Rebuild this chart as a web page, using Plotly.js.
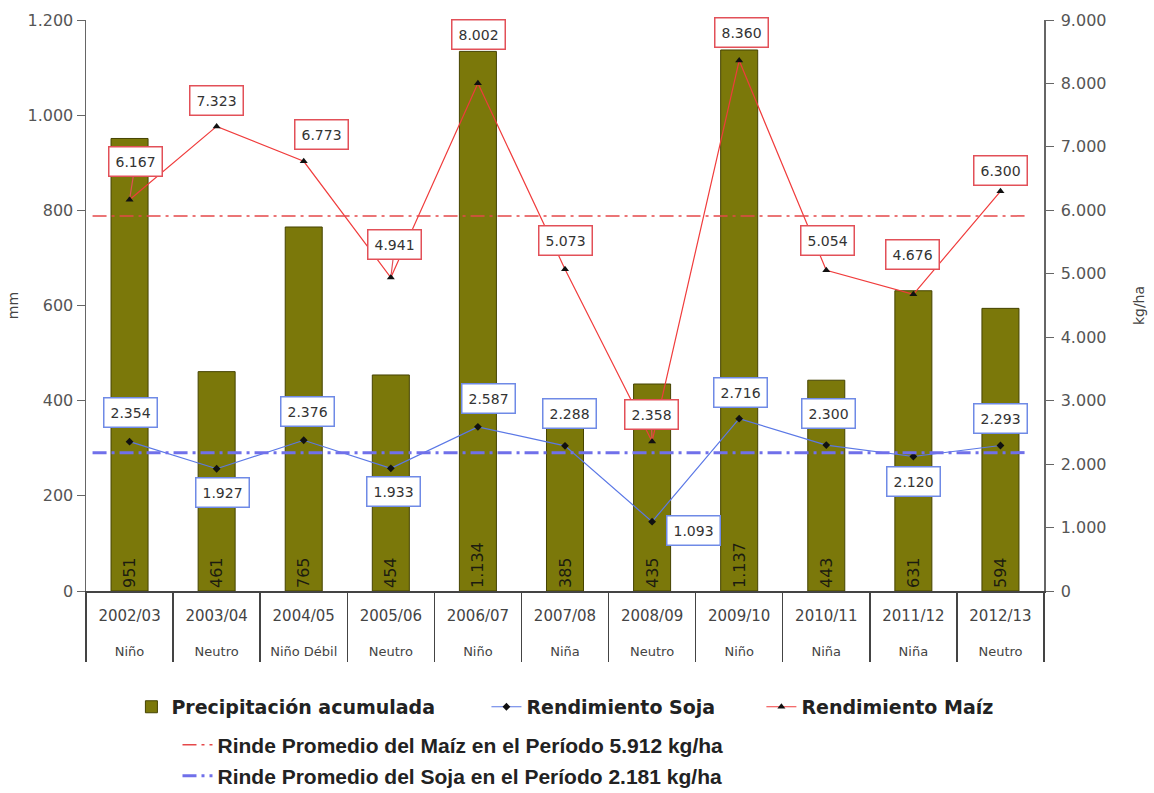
<!DOCTYPE html>
<html>
<head>
<meta charset="utf-8">
<script src="https://cdn.plot.ly/plotly-3.0.1.min.js"></script>
<style>html,body{margin:0;padding:0;background:#fff;}#chart{width:1154px;height:793px;}</style>
</head>
<body>
<div id="chart"></div>
<script>
// ---- data ----
const years = ['2002/03','2003/04','2004/05','2005/06','2006/07','2007/08','2008/09','2009/10','2010/11','2011/12','2012/13'];
const enso = ['Niño','Neutro','Niño Débil','Neutro','Niño','Niña','Neutro','Niño','Niña','Niña','Neutro'];
const precip = [951, 461, 765, 454, 1134, 385, 435, 1137, 443, 631, 594];
const maiz = [6167, 7323, 6773, 4941, 8002, 5073, 2358, 8360, 5054, 4676, 6300];
const soja = [2354, 1927, 2376, 1933, 2587, 2288, 1093, 2716, 2300, 2120, 2293];
const avgMaiz = 5912;
const avgSoja = 2181;

// ---- label placement (pixel offsets, layout only) ----
const maizOff = [[6,38,true],[0,26],[18,27],[4,33,true],[1,49],[0,29],[-1,27,true],[2,28],[1,30],[-1,40],[0,21]];
const sojaOff = [[1,29],[6,-24],[4,29],[3,-23],[11,28],[4,32],[41,-9],[1,26],[2,32],[0,-25],[0,27]];

function fmt(v){ return v.toString().replace(/\B(?=(\d{3})+(?!\d))/g, '.'); }

// two-level category labels: campaign on top, ENSO phase below
const xcat = years.map((y,i)=> '<span style="font-size:15px">' + y + '</span><br><br><span style="font-size:13px">' + enso[i] + '</span>');

const traces = [
  {
    type:'bar', name:'Precipitación acumulada', x:xcat, y:precip,
    marker:{color:'#7b780a', line:{color:'#454300', width:1}},
    text: precip.map(fmt), textposition:'inside', insidetextanchor:'start', textangle:-90,
    constraintext:'none', textfont:{family:'DejaVu Sans', size:16, color:'#1c1c10'},
    legend:'legend'
  },
  {
    type:'scatter', mode:'lines+markers', name:'Rendimiento Soja', x:xcat, y:soja, yaxis:'y2',
    line:{color:'#5b78e6', width:1.2}, marker:{symbol:'diamond', size:6, color:'#111'},
    legend:'legend4'
  },
  {
    type:'scatter', mode:'lines+markers', name:'Rendimiento Maíz', x:xcat, y:maiz, yaxis:'y2',
    line:{color:'#f03c3c', width:1.2}, marker:{symbol:'triangle-up', size:7, color:'#111'},
    legend:'legend5'
  },
  {
    type:'scatter', mode:'lines', name:'Rinde Promedio del Maíz en el Período 5.912 kg/ha',
    x:[0,1], y:[avgMaiz, avgMaiz], xaxis:'x3', yaxis:'y2',
    line:{color:'#e5484a', width:1.5, dash:'14px,5px,3px,5px'}, legend:'legend2'
  },
  {
    type:'scatter', mode:'lines', name:'Rinde Promedio del Soja en el Período 2.181 kg/ha',
    x:[0,1], y:[avgSoja, avgSoja], xaxis:'x3', yaxis:'y2',
    line:{color:'#7070ea', width:3, dash:'14px,5px,3px,5px'}, legend:'legend3'
  }
];

const annotations = [];
maiz.forEach((v,i)=>{
  const o = maizOff[i];
  const a = {xref:'x', yref:'y2', x:i, y:v, text:fmt(v),
    font:{family:'DejaVu Sans', size:14, color:'#333'},
    bgcolor:'#fff', bordercolor:'#e25058', borderwidth:1.5, borderpad:6};
  if(o[2]){ a.showarrow=true; a.arrowhead=0; a.arrowwidth=1.2; a.arrowcolor='#e25058'; a.ax=o[0]; a.ay=-o[1]; a.standoff=3; }
  else { a.showarrow=false; a.xshift=o[0]; a.yshift=o[1]; }
  annotations.push(a);
});
soja.forEach((v,i)=>{
  const o = sojaOff[i];
  annotations.push({xref:'x', yref:'y2', x:i, y:v, text:fmt(v), showarrow:false,
    xshift:o[0], yshift:o[1],
    font:{family:'DejaVu Sans', size:14, color:'#333'},
    bgcolor:'#fff', bordercolor:'#6f8ae6', borderwidth:1.5, borderpad:6});
});

const tickFont = {family:'DejaVu Sans', size:16, color:'#555'};
const legBase = {orientation:'h', xanchor:'left', yanchor:'middle', bgcolor:'rgba(0,0,0,0)'};
const row1Font = {family:'DejaVu Sans', size:19, color:'#222', weight:'bold'};
const row2Font = {family:'Liberation Sans', size:21, color:'#222', weight:'bold'};
const layout = {
  width:1154, height:793,
  margin:{l:86, r:110, t:20, b:202, autoexpand:false},
  paper_bgcolor:'#fff', plot_bgcolor:'#fff',
  separators:',.',
  showlegend:true,
  bargap:0.575,
  xaxis:{
    type:'category', range:[-0.5,10.5], showline:true, linecolor:'#444', linewidth:1.5,
    tickson:'boundaries', ticks:'outside', ticklen:69, tickwidth:1.5, tickcolor:'#444',
    ticklabelstandoff:12,
    tickfont:{family:'DejaVu Sans', size:13.5, color:'#444'}, showgrid:false, zeroline:false
  },
  xaxis3:{overlaying:'x', range:[-0.007,1.016], visible:false, showgrid:false, zeroline:false},
  yaxis:{
    range:[0,1200], dtick:200, separatethousands:true, showgrid:false, zeroline:false,
    showline:true, linecolor:'#666', linewidth:1.5, ticks:'outside', ticklen:8, tickcolor:'#666',
    tickfont:tickFont, title:{text:'mm', font:{family:'DejaVu Sans', size:14, color:'#444'}, standoff:5}
  },
  yaxis2:{
    overlaying:'y', side:'right', range:[0,9000], dtick:1000, separatethousands:true,
    showgrid:false, zeroline:false, showline:true, linecolor:'#666', linewidth:1.5,
    ticks:'outside', ticklen:8, tickcolor:'#666', tickfont:tickFont, ticklabelstandoff:4,
    title:{text:'kg/ha', font:{family:'DejaVu Sans', size:14, color:'#444'}, standoff:28}
  },
  legend: Object.assign({}, legBase, {x:0.0474, y:-0.203, font:row1Font}),
  legend4: Object.assign({}, legBase, {x:0.418, y:-0.203, font:row1Font}),
  legend5: Object.assign({}, legBase, {x:0.705, y:-0.203, font:row1Font}),
  legend2: Object.assign({}, legBase, {x:0.0955, y:-0.270, font:row2Font}),
  legend3: Object.assign({}, legBase, {x:0.0955, y:-0.324, font:row2Font}),
  annotations: annotations,
  hovermode:false
};

Plotly.newPlot('chart', traces, layout, {staticPlot:true, displayModeBar:false});
</script>
</body>
</html>
